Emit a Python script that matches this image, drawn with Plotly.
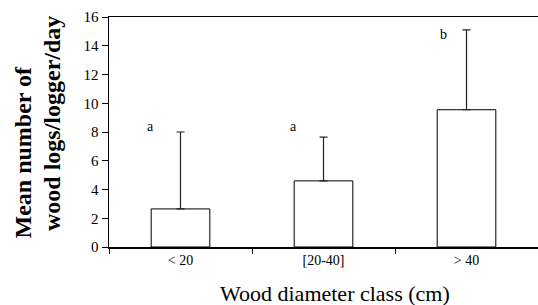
import plotly.graph_objects as go

categories = ["< 20", "[20-40]", "> 40"]
means = [2.65, 4.6, 9.55]
upper = [8.0, 7.65, 15.1]
letters = ["a", "a", "b"]
letter_y = [8.4, 8.4, 14.75]
y_ticks = [0, 2, 4, 6, 8, 10, 12, 14, 16]
y_title_lines = ["Mean number of", "wood logs/logger/day"]

err_plus = [u - m for u, m in zip(upper, means)]
letter_shift = [-30, -30, -23]
y_title_pos = [(-0.2016, 0.413), (-0.1317, 0.537)]

FONT = "Liberation Serif, Times New Roman, serif"

fig = go.Figure()
fig.add_trace(go.Bar(
    x=categories, y=means, width=0.41,
    marker=dict(color="white", line=dict(color="black", width=1)),
    error_y=dict(type="data", symmetric=False, array=err_plus,
                 arrayminus=[0] * len(means), color="#222", thickness=1.2, width=4),
    showlegend=False, hoverinfo="skip",
))

for i, (t, ly) in enumerate(zip(letters, letter_y)):
    fig.add_annotation(x=i, y=ly, text=t, showarrow=False, xshift=letter_shift[i],
                       font=dict(family=FONT, size=14, color="black"))

fig.add_annotation(xref="paper", yref="paper", x=0.526, y=-0.2, text="Wood diameter class (cm)",
                   showarrow=False, xanchor="center", yanchor="middle",
                   font=dict(family=FONT, size=22, color="black"))
for line, (px, py) in zip(y_title_lines, y_title_pos):
    fig.add_annotation(xref="paper", yref="paper", x=px, y=py,
                       text="<b>" + line + "</b>",
                       showarrow=False, xanchor="center", yanchor="middle", textangle=-90,
                       font=dict(family=FONT, size=24, color="black"))

fig.update_layout(
    width=538, height=305,
    margin=dict(l=109, r=0, t=17, b=58),
    paper_bgcolor="white", plot_bgcolor="white",
    font=dict(family=FONT, size=14, color="black"),
    xaxis=dict(type="category", showline=True, linecolor="black", linewidth=1.5,
               mirror=True, ticks="outside", tickson="boundaries", ticklen=5,
               tickcolor="black", showgrid=False,
               tickfont=dict(family=FONT, size=14, color="black")),
    yaxis=dict(range=[0, 16], tickvals=y_ticks, showline=True, linecolor="black",
               linewidth=1.5, ticks="outside", ticklen=6, tickcolor="black",
               showgrid=False, zeroline=False,
               tickfont=dict(family=FONT, size=15, color="black")),
    bargap=0.59,
)

fig.write_html("out.html", config={"displayModeBar": False, "staticPlot": True},
               post_script="document.body.style.margin='0';document.body.style.overflow='hidden';")
